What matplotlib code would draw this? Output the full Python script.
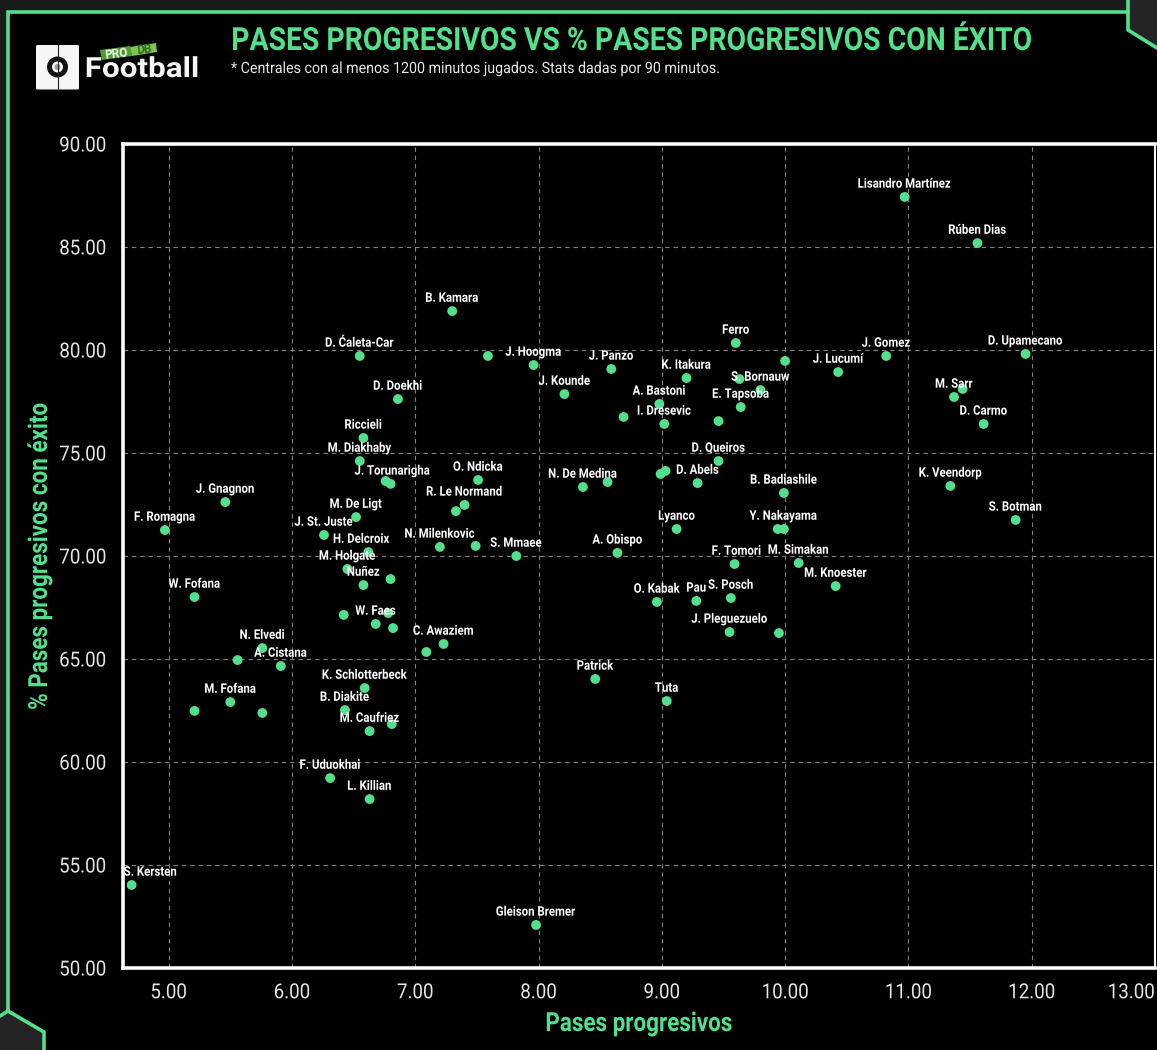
import matplotlib
matplotlib.use("Agg")
import matplotlib.pyplot as plt
from matplotlib.patches import Polygon, FancyBboxPatch, Circle
from matplotlib.patheffects import AbstractPathEffect
from matplotlib.transforms import Affine2D

W, H = 1157, 1050
GREEN = "#52e08c"
plt.rcParams["font.family"] = ["Roboto", "DejaVu Sans"]

pases = [10.97, 11.56, 7.30, 9.60, 6.55, 7.59, 7.96, 8.59, 10.00, 10.82, 10.43, 11.95,
         9.20, 9.63, 9.80, 11.44, 11.37, 6.86, 8.21, 8.98, 9.64, 8.69, 9.02, 9.46, 11.61,
         6.58, 6.55, 9.46, 9.03, 8.99, 7.51, 6.76, 6.80, 8.56, 8.36, 9.29, 11.34, 9.99,
         5.46, 7.40, 7.33, 6.52, 11.87, 4.97, 9.12, 9.99, 9.94, 6.26, 7.20, 7.49, 6.62,
         8.64, 7.82, 10.11, 9.59, 6.45, 6.80, 6.58, 10.41, 5.21, 9.56, 8.96, 9.28, 6.42,
         6.78, 6.68, 6.82, 9.55, 9.95, 7.23, 7.09, 5.76, 5.56, 5.91, 8.46, 6.59, 9.04,
         5.50, 5.21, 5.76, 6.43, 6.81, 6.63, 6.31, 6.63, 4.70, 7.98]
exito = [87.43, 85.19, 81.89, 80.34, 79.71, 79.71, 79.27, 79.08, 79.47, 79.71, 78.93, 79.81,
         78.64, 78.59, 78.06, 78.11, 77.72, 77.62, 77.86, 77.38, 77.23, 76.75, 76.41, 76.55, 76.41,
         75.73, 74.61, 74.61, 74.13, 73.98, 73.69, 73.64, 73.50, 73.59, 73.35, 73.54, 73.40, 73.06,
         72.62, 72.48, 72.18, 71.89, 71.75, 71.26, 71.31, 71.31, 71.31, 71.02, 70.44, 70.49, 70.19,
         70.15, 70.00, 69.66, 69.61, 69.37, 68.88, 68.59, 68.54, 68.01, 67.96, 67.77, 67.82, 67.14,
         67.23, 66.70, 66.50, 66.31, 66.26, 65.73, 65.34, 65.53, 64.95, 64.66, 64.03, 63.59, 62.96,
         62.91, 62.48, 62.38, 62.52, 61.84, 61.50, 59.22, 58.20, 54.03, 52.09]
jugadores = ["Lisandro Martínez", "Rúben Dias", "B. Kamara", "Ferro", "D. Ćaleta-Car", "", "J. Hoogma", "J. Panzo",
             "", "J. Gomez", "J. Lucumí", "D. Upamecano",
             "K. Itakura", "", "S. Bornauw", "", "M. Sarr", "D. Doekhi", "J. Kounde", "A. Bastoni", "E. Tapsoba",
             "", "I. Dresevic", "", "D. Carmo",
             "Riccieli", "M. Diakhaby", "D. Queiros", "", "", "O. Ndicka", "", "J. Torunarigha",
             "", "N. De Medina", "D. Abels", "K. Veendorp", "B. Badiashile",
             "J. Gnagnon", "R. Le Normand", "", "M. De Ligt", "S. Botman", "F. Romagna", "Lyanco", "Y. Nakayama", "",
             "J. St. Juste", "N. Milenkovic", "", "H. Delcroix",
             "A. Obispo", "S. Mmaee", "M. Simakan", "F. Tomori", "M. Holgate", "", "Nuñez", "M. Knoester",
             "W. Fofana", "S. Posch", "O. Kabak", "Pau", "",
             "", "W. Faes", "", "J. Pleguezuelo", "", "C. Awaziem", "", "N. Elvedi", "", "A. Cistana", "Patrick",
             "K. Schlotterbeck", "Tuta",
             "M. Fofana", "", "", "B. Diakite", "", "M. Caufriez", "F. Uduokhai", "L. Killian", "S. Kersten",
             "Gleison Bremer"]
ajustes = {"S. Kersten": 19, "H. Delcroix": -7, "F. Tomori": 2, "J. Torunarigha": 2}
x_ticks = [5, 6, 7, 8, 9, 10, 11, 12, 13]
y_ticks = [50, 55, 60, 65, 70, 75, 80, 85, 90]


class Condense(AbstractPathEffect):
    # squeezes a text along its baseline, no condensed face is installed
    def __init__(self, sx, anchor="center"):
        super().__init__()
        self.sx = sx
        self.anchor = anchor

    def draw_path(self, renderer, gc, tpath, affine, rgbFace=None):
        e = tpath.get_extents()
        p = {"left": e.x0, "center": (e.x0 + e.x1) / 2, "right": e.x1}[self.anchor]
        t = Affine2D().translate(-p, 0).scale(self.sx, 1).translate(p, 0) + affine
        renderer.draw_path(gc, tpath, t, rgbFace)


fig = plt.figure(figsize=(W / 100, H / 100), dpi=100, facecolor="#1a1a1a")

# frame and header live in a pixel-sized overlay
bg = fig.add_axes([0, 0, 1, 1], zorder=0)
bg.set_xlim(0, W); bg.set_ylim(H, 0); bg.axis("off")
bg.add_patch(Polygon([(0, 1015), (8, 1011), (44, 1032), (44, 1050), (0, 1050)], fc="#242424", ec="none"))
bg.add_patch(Polygon([(1128, 0), (1157, 0), (1157, 48), (1128, 30)], fc="#242424", ec="none"))
bg.add_patch(Polygon([(8, 12), (1128, 12), (1128, 30), (1157, 48), (1157, H), (44, H), (44, 1032), (8, 1011)],
                     fc="black", ec="none"))
bg.plot([44, 44, 8, 8, 1128, 1128, 1157], [1050, 1032, 1011, 12, 12, 30, 48], color=GREEN, lw=2.6,
        solid_joinstyle="miter")
bg.plot([1128, 1128], [0, 12], color=GREEN, lw=2.6)
bg.plot([0, 8], [1016, 1011], color=GREEN, lw=2.6)

# logo
bg.add_patch(FancyBboxPatch((36, 45), 43, 44.5, boxstyle="round,pad=0,rounding_size=1.5", fc="#f4f7f4", ec="none"))
bg.plot([57.5, 57.5], [45, 89.5], color="#222222", lw=0.8)
bg.add_patch(Circle((57.5, 67), 10.5, fc="#111111", ec="none"))
bg.add_patch(Circle((57.5, 67), 5.5, fc="#f4f7f4", ec="none"))
bg.add_patch(Circle((57.5, 67), 3, fc="#999999", ec="none"))
bg.add_patch(Polygon([(100, 50), (130, 46), (132, 56), (102, 60)], fc="#4f9c35", ec="none"))
bg.add_patch(Polygon([(130, 47), (156, 43), (157, 52), (132, 56)], fc="#7cc552", ec="none"))
bg.text(116, 54, "PRO", color="#f4f7f4", fontsize=8.5, fontweight="bold", ha="center", va="center", rotation=7)
bg.text(144, 50, "DB", color="#2e6b1e", fontsize=8.5, fontweight="bold", ha="center", va="center", rotation=7)
bg.text(85, 77, "Football", color="#f4f7f4", fontsize=20, fontweight="bold", ha="left", va="baseline",
        path_effects=[Condense(1.13, "left")])

bg.text(231, 50, "PASES PROGRESIVOS VS % PASES PROGRESIVOS CON ÉXITO", color=GREEN, fontsize=23,
        fontweight="bold", ha="left", va="baseline", path_effects=[Condense(0.887, "left")])
bg.text(231, 73, "* Centrales con al menos 1200 minutos jugados. Stats dadas por 90 minutos.", color="#e6e6e6",
        fontsize=11.2, ha="left", va="baseline", path_effects=[Condense(0.915, "left")])

ax = fig.add_axes([123 / W, 1 - 968 / H, (1155 - 123) / W, (968 - 144) / H], zorder=1, facecolor="black")
ax.set_xlim(4.63, 13.0)
ax.set_ylim(50, 90)
ax.set_xticks(x_ticks)
ax.set_yticks(y_ticks)
ax.set_xticklabels([f"{v:.2f}" for v in x_ticks])
ax.set_yticklabels([f"{v:.2f}" for v in y_ticks])
ax.tick_params(length=0, colors="#e6e6e6", labelsize=15)
ax.tick_params(axis="x", pad=11)
ax.tick_params(axis="y", pad=12)
for t in ax.get_xticklabels():
    t.set_path_effects([Condense(0.9)])
ax.get_xticklabels()[-1].set_ha("right")
ax.get_xticklabels()[-1].set_path_effects([Condense(0.9, "right")])
for t in ax.get_yticklabels():
    t.set_path_effects([Condense(0.9, "right")])
ax.grid(True, color="#808080", ls="--", lw=0.8, dashes=(4, 3.5))
ax.set_axisbelow(True)
for s in ax.spines.values():
    s.set_color("white")
    s.set_linewidth(2.6)
ax.spines["right"].set_linewidth(1.5)

ax.scatter(pases, exito, s=50, color=GREEN, edgecolors="none", zorder=3, clip_on=False)
for x, y, n in zip(pases, exito, jugadores):
    if n:
        ax.annotate(n, (x, y), xytext=(ajustes.get(n, 0) * 0.72, 9.2), textcoords="offset points",
                    ha="center", va="center", color="white", fontsize=9.5, fontweight="bold", zorder=4,
                    path_effects=[Condense(0.865)])

bg.text(639, 1024, "Pases progresivos", color=GREEN, fontsize=19, fontweight="bold", ha="center", va="center",
        path_effects=[Condense(0.85)])
fig.text(40 / W, 1 - 556 / H, "% Pases progresivos con éxito", color=GREEN, fontsize=19, fontweight="bold",
         ha="center", va="center", rotation=90, path_effects=[Condense(0.85)])

fig.savefig("out.png", dpi=100, facecolor=fig.get_facecolor())
